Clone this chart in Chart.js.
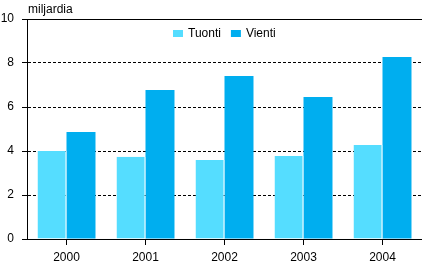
<!DOCTYPE html>
<html>
<head>
<meta charset="utf-8">
<script src="https://cdn.jsdelivr.net/npm/chart.js@4"></script>
<style>
  html, body { margin: 0; padding: 0; background: #fff; }
  #wrap { width: 422px; height: 265px; }
</style>
</head>
<body>
<div id="wrap"><canvas id="chart" width="422" height="265"></canvas></div>
<script>
const years = ['2000', '2001', '2002', '2003', '2004'];
const tuonti = [4.0, 3.74, 3.59, 3.77, 4.27];
const vienti = [4.86, 6.77, 7.41, 6.45, 8.27];
const seriesNames = ['Tuonti', 'Vienti'];
const seriesColors = ['#55ddff', '#00aeef'];
const unitLabel = 'miljardia';

const fontFamily = '"Liberation Sans", Arial, sans-serif';

// draws the unit label, the solid top line and the legend inside the plot
const extras = {
    id: 'extras',
    afterDraw(chart) {
        const ctx = chart.ctx;
        const area = chart.chartArea;
        ctx.save();

        // solid line along the top of the plot
        ctx.strokeStyle = '#000';
        ctx.lineWidth = 1;
        ctx.beginPath();
        ctx.moveTo(area.left - 5, area.top + 0.5);
        ctx.lineTo(area.right, area.top + 0.5);
        ctx.stroke();

        ctx.font = '12px ' + fontFamily;
        ctx.fillStyle = '#000';
        ctx.textBaseline = 'middle';
        ctx.textAlign = 'left';
        ctx.fillText(unitLabel, area.left + 1, 10);

        // legend
        const boxW = 10, boxH = 7, gap = 5, spacing = 10;
        const items = chart.data.datasets.map(ds => ({
            label: ds.label,
            color: ds.backgroundColor,
            w: ctx.measureText(ds.label).width
        }));
        let total = 0;
        items.forEach((it, i) => {
            total += boxW + gap + it.w + (i > 0 ? spacing : 0);
        });
        let x = Math.round((area.left + area.right) / 2 - total / 2);
        const y = 34;
        items.forEach(it => {
            ctx.fillStyle = it.color;
            ctx.fillRect(x, y - 4, boxW, boxH);
            ctx.fillStyle = '#000';
            ctx.fillText(it.label, x + boxW + gap, y);
            x += boxW + gap + it.w + spacing;
        });
        ctx.restore();
    }
};

new Chart(document.getElementById('chart').getContext('2d'), {
    type: 'bar',
    data: {
        labels: years,
        datasets: [{
            label: seriesNames[0],
            data: tuonti,
            backgroundColor: seriesColors[0],
            borderColor: '#fff',
            borderWidth: {top: 0, right: 1, bottom: 0, left: 0},
            borderSkipped: false,
            barPercentage: 1,
            categoryPercentage: 0.734
        }, {
            label: seriesNames[1],
            data: vienti,
            backgroundColor: seriesColors[1],
            borderWidth: 0,
            barPercentage: 1,
            categoryPercentage: 0.734
        }]
    },
    options: {
        responsive: false,
        animation: false,
        layout: {
            padding: {top: 19, right: 0, bottom: 0, left: 0}
        },
        plugins: {
            legend: {display: false},
            tooltip: {enabled: false}
        },
        scales: {
            x: {
                offset: true,
                grid: {
                    offset: false,
                    drawOnChartArea: false,
                    tickLength: 6,
                    tickColor: '#000'
                },
                border: {display: true, color: '#000', width: 1},
                ticks: {
                    color: '#000',
                    padding: 5,
                    font: {family: fontFamily, size: 12}
                },
                afterFit(scale) {
                    scale.height = 26;
                }
            },
            y: {
                min: 0,
                max: 10,
                grid: {
                    color: '#000',
                    lineWidth: 1,
                    tickLength: 5,
                    tickColor: '#000',
                    tickBorderDash: []
                },
                border: {display: true, color: '#000', width: 1, dash: [3, 2]},
                ticks: {
                    stepSize: 2,
                    color: '#000',
                    crossAlign: 'near',
                    padding: 8,
                    font: {family: fontFamily, size: 12}
                },
                afterFit(scale) {
                    scale.width = 27;
                }
            }
        }
    },
    plugins: [extras]
});
</script>
</body>
</html>
